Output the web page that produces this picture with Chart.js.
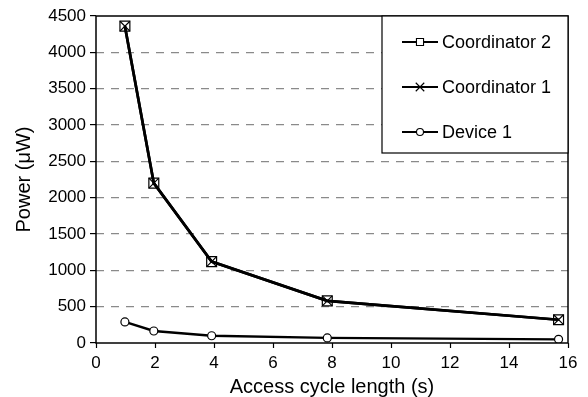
<!DOCTYPE html>
<html>
<head>
<meta charset="utf-8">
<script src="https://cdn.jsdelivr.net/npm/chart.js@4/dist/chart.umd.min.js"></script>
<style>
html,body{margin:0;padding:0;background:#fff;}
#wrap{width:588px;height:397px;}
</style>
</head>
<body>
<div id="wrap"><canvas id="c" width="588" height="397"></canvas></div>
<script>
const cycleLengths = [0.98, 1.96, 3.92, 7.84, 15.68];
const coordinator2 = [4360, 2200, 1120, 580, 320];
const coordinator1 = [4360, 2200, 1120, 580, 320];
const device1 = [290, 165, 100, 70, 50];
const seriesNames = ['Coordinator 2', 'Coordinator 1', 'Device 1'];
const xTicks = [0, 2, 4, 6, 8, 10, 12, 14, 16];
const yTicks = [0, 500, 1000, 1500, 2000, 2500, 3000, 3500, 4000, 4500];

const FONT = "'Liberation Sans', Arial, Helvetica, sans-serif";
const pts = arr => cycleLengths.map((x, i) => ({x: x, y: arr[i]}));

const styles = [
  {name: seriesNames[0], data: coordinator2, pointStyle: 'rect', r: 7, bw: 2.7, fill: 'rgba(0,0,0,0)'},
  {name: seriesNames[1], data: coordinator1, pointStyle: 'crossRot', r: 7, bw: 2.7, fill: 'rgba(0,0,0,0)'},
  {name: seriesNames[2], data: device1, pointStyle: 'circle', r: 4, bw: 2.4, fill: '#fff'}
];

const datasets = styles.map((s, i) => ({
  label: s.name,
  data: pts(s.data),
  borderColor: '#000',
  borderWidth: s.bw,
  backgroundColor: s.fill,
  pointStyle: s.pointStyle,
  pointRadius: s.r,
  pointBorderWidth: 1.2,
  pointBorderColor: '#000',
  pointBackgroundColor: s.fill,
  showLine: true,
  tension: 0,
  order: 3 - i
}));

function legendMarker(ctx, st, x, y) {
  const radius = st === 'circle' ? 3.5 : (st === 'rect' ? 5 : 6);
  ctx.fillStyle = '#fff';
  ctx.strokeStyle = '#000';
  ctx.lineWidth = 1.1;
  Chart.helpers.drawPoint(ctx, {pointStyle: st, rotation: 0, radius: radius, borderWidth: 1.1}, x, y);
}

const framePlugin = {
  id: 'frame',
  afterDraw(chart) {
    const {ctx, chartArea: a} = chart;
    ctx.save();
    ctx.strokeStyle = '#000';
    ctx.lineWidth = 1.5;
    ctx.strokeRect(a.left, a.top, a.right - a.left, a.bottom - a.top);
    const lx = 382, ly = a.top, lw = a.right - 382, lh = 137;
    ctx.fillStyle = '#fff';
    ctx.fillRect(lx, ly, lw, lh);
    ctx.lineWidth = 1.2;
    ctx.strokeRect(lx, ly, lw, lh);
    const rows = [42, 87, 132];
    styles.forEach((s, i) => {
      const y = rows[i];
      ctx.strokeStyle = '#000';
      ctx.lineWidth = 2;
      ctx.beginPath();
      ctx.moveTo(402, y);
      ctx.lineTo(438, y);
      ctx.stroke();
      legendMarker(ctx, s.pointStyle, 420, y);
      ctx.fillStyle = '#000';
      ctx.font = '18px ' + FONT;
      ctx.textBaseline = 'middle';
      ctx.textAlign = 'left';
      ctx.fillText(s.name, 442, y + 1);
    });
    ctx.restore();
  }
};

new Chart(document.getElementById('c'), {
  type: 'line',
  data: {datasets: datasets},
  plugins: [framePlugin],
  options: {
    responsive: false,
    animation: false,
    layout: {padding: {top: 16, right: 20, left: 14, bottom: 0}},
    plugins: {legend: {display: false}, tooltip: {enabled: false}},
    scales: {
      x: {
        type: 'linear',
        min: 0, max: 16,
        afterBuildTicks: sc => { sc.ticks = xTicks.map(v => ({value: v})); },
        afterFit: sc => { sc.height = 54; },
        grid: {drawOnChartArea: false, drawTicks: true, tickLength: 5, tickColor: '#000', tickWidth: 1.2},
        border: {display: false},
        ticks: {color: '#000', font: {family: FONT, size: 17}, padding: 5, maxRotation: 0, callback: v => String(v)},
        title: {display: true, text: 'Access cycle length (s)', color: '#000', font: {family: FONT, size: 20, lineHeight: 1}, padding: {top: 0, bottom: 0}}
      },
      y: {
        min: 0, max: 4500,
        afterBuildTicks: sc => { sc.ticks = yTicks.map(v => ({value: v})); },
        afterFit: sc => { sc.width = 82; },
        grid: {
          drawTicks: true, tickLength: 6, tickWidth: 1.2,
          tickColor: '#000',
          color: ctx => (ctx.tick && (ctx.tick.value === 0 || ctx.tick.value === 4500)) ? 'rgba(0,0,0,0)' : '#8a8a8a',
          lineWidth: 1.2,
          tickBorderDash: []
        },
        border: {display: false, dash: [8, 7]},
        ticks: {color: '#000', font: {family: FONT, size: 17}, padding: 4, callback: v => String(v)},
        title: {display: true, text: 'Power (μW)', color: '#000', font: {family: FONT, size: 20, lineHeight: 1}, padding: {top: 0, bottom: 0}}
      }
    }
  }
});
</script>
</body>
</html>
